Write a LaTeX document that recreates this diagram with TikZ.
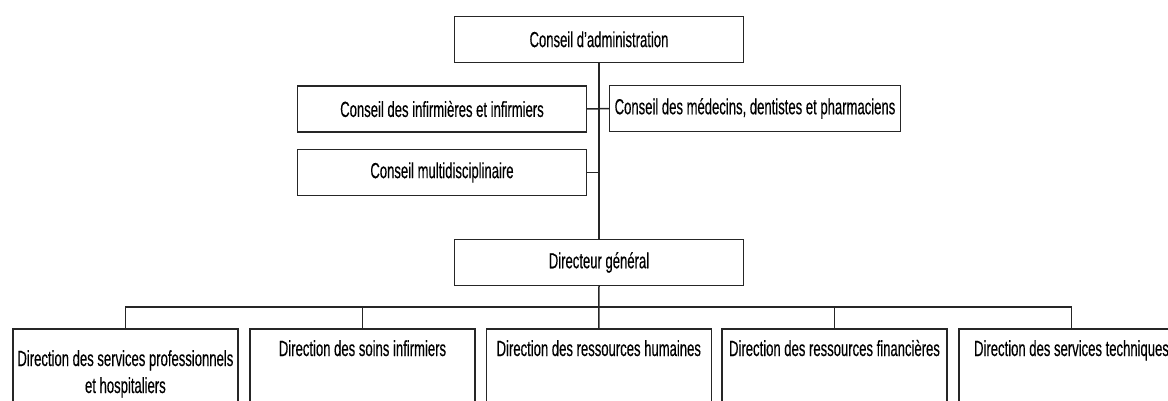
\documentclass[tikz,border=0pt]{standalone}
\usepackage{fontspec}
\setmainfont{Liberation Sans}[FakeStretch=0.6,FakeBold=0.3]
\begin{document}
\begin{tikzpicture}[x=1pt,y=-1pt,
  box/.style={draw=black!85, line width=1.5pt, fill=white, inner sep=0pt, outer sep=0pt,
    minimum width=289pt, minimum height=46pt, font=\fontsize{21.8}{26}\selectfont, align=center},
  dbox/.style={draw=black!85, line width=1.5pt, inner sep=0pt, outer sep=0pt,
    minimum width=225pt, minimum height=92pt},
  dtxt/.style={font=\fontsize{21.8}{26}\selectfont, inner sep=0pt, anchor=base, align=center},
  conn/.style={draw=black!85, line width=1.5pt}]
\useasboundingbox (0,0) rectangle (1168,401);
\clip (0,0) rectangle (1168,401);
% upper boxes
\node[box] (admin) at (599,39.3) {Conseil d'administration};
\node[box] (inf) at (442,109) {Conseil des infirmières et infirmiers};
\node[box, minimum width=291pt] (med) at (755,108.5) {Conseil des médecins, dentistes et pharmaciens};
\node[box] (multi) at (442,172.5) {Conseil multidisciplinaire};
\node[box] (dir) at (599,262.5) {Directeur général};
% lower boxes
\node[dbox] (d1) at (125.4,375) {};
\node[dbox] (d2) at (362.5,375) {};
\node[dbox] (d3) at (598.8,375) {};
\node[dbox] (d4) at (834.5,375) {};
\node[dbox] (d5) at (1071.5,375) {};
\node[dtxt] (t1a) at ([yshift=-37pt]d1.north) {Direction des services professionnels};
\node[dtxt] (t1b) at ([yshift=-64pt]d1.north) {et hospitaliers};
\node[dtxt] (t2) at ([yshift=-27pt]d2.north) {Direction des soins infirmiers};
\node[dtxt] (t3) at ([yshift=-27pt]d3.north) {Direction des ressources humaines};
\node[dtxt] (t4) at ([yshift=-27pt]d4.north) {Direction des ressources financières};
\node[dtxt] (t5) at ([yshift=-27pt]d5.north) {Direction des services techniques};
% connectors
\coordinate (bus) at (599,307);
\draw[conn] (admin.south) -- (admin.south |- dir.north);
\draw[conn] (inf.east) -- (med.west);
\draw[conn] (multi.east) -- (multi.east -| admin.south);
\draw[conn] (dir.south) -- (d3.north);
\draw[conn] (d1.north) -- (d1.north |- bus) -- (d5.north |- bus) -- (d5.north);
\draw[conn] (d2.north) -- (d2.north |- bus);
\draw[conn] (d4.north) -- (d4.north |- bus);
\end{tikzpicture}
\end{document}
